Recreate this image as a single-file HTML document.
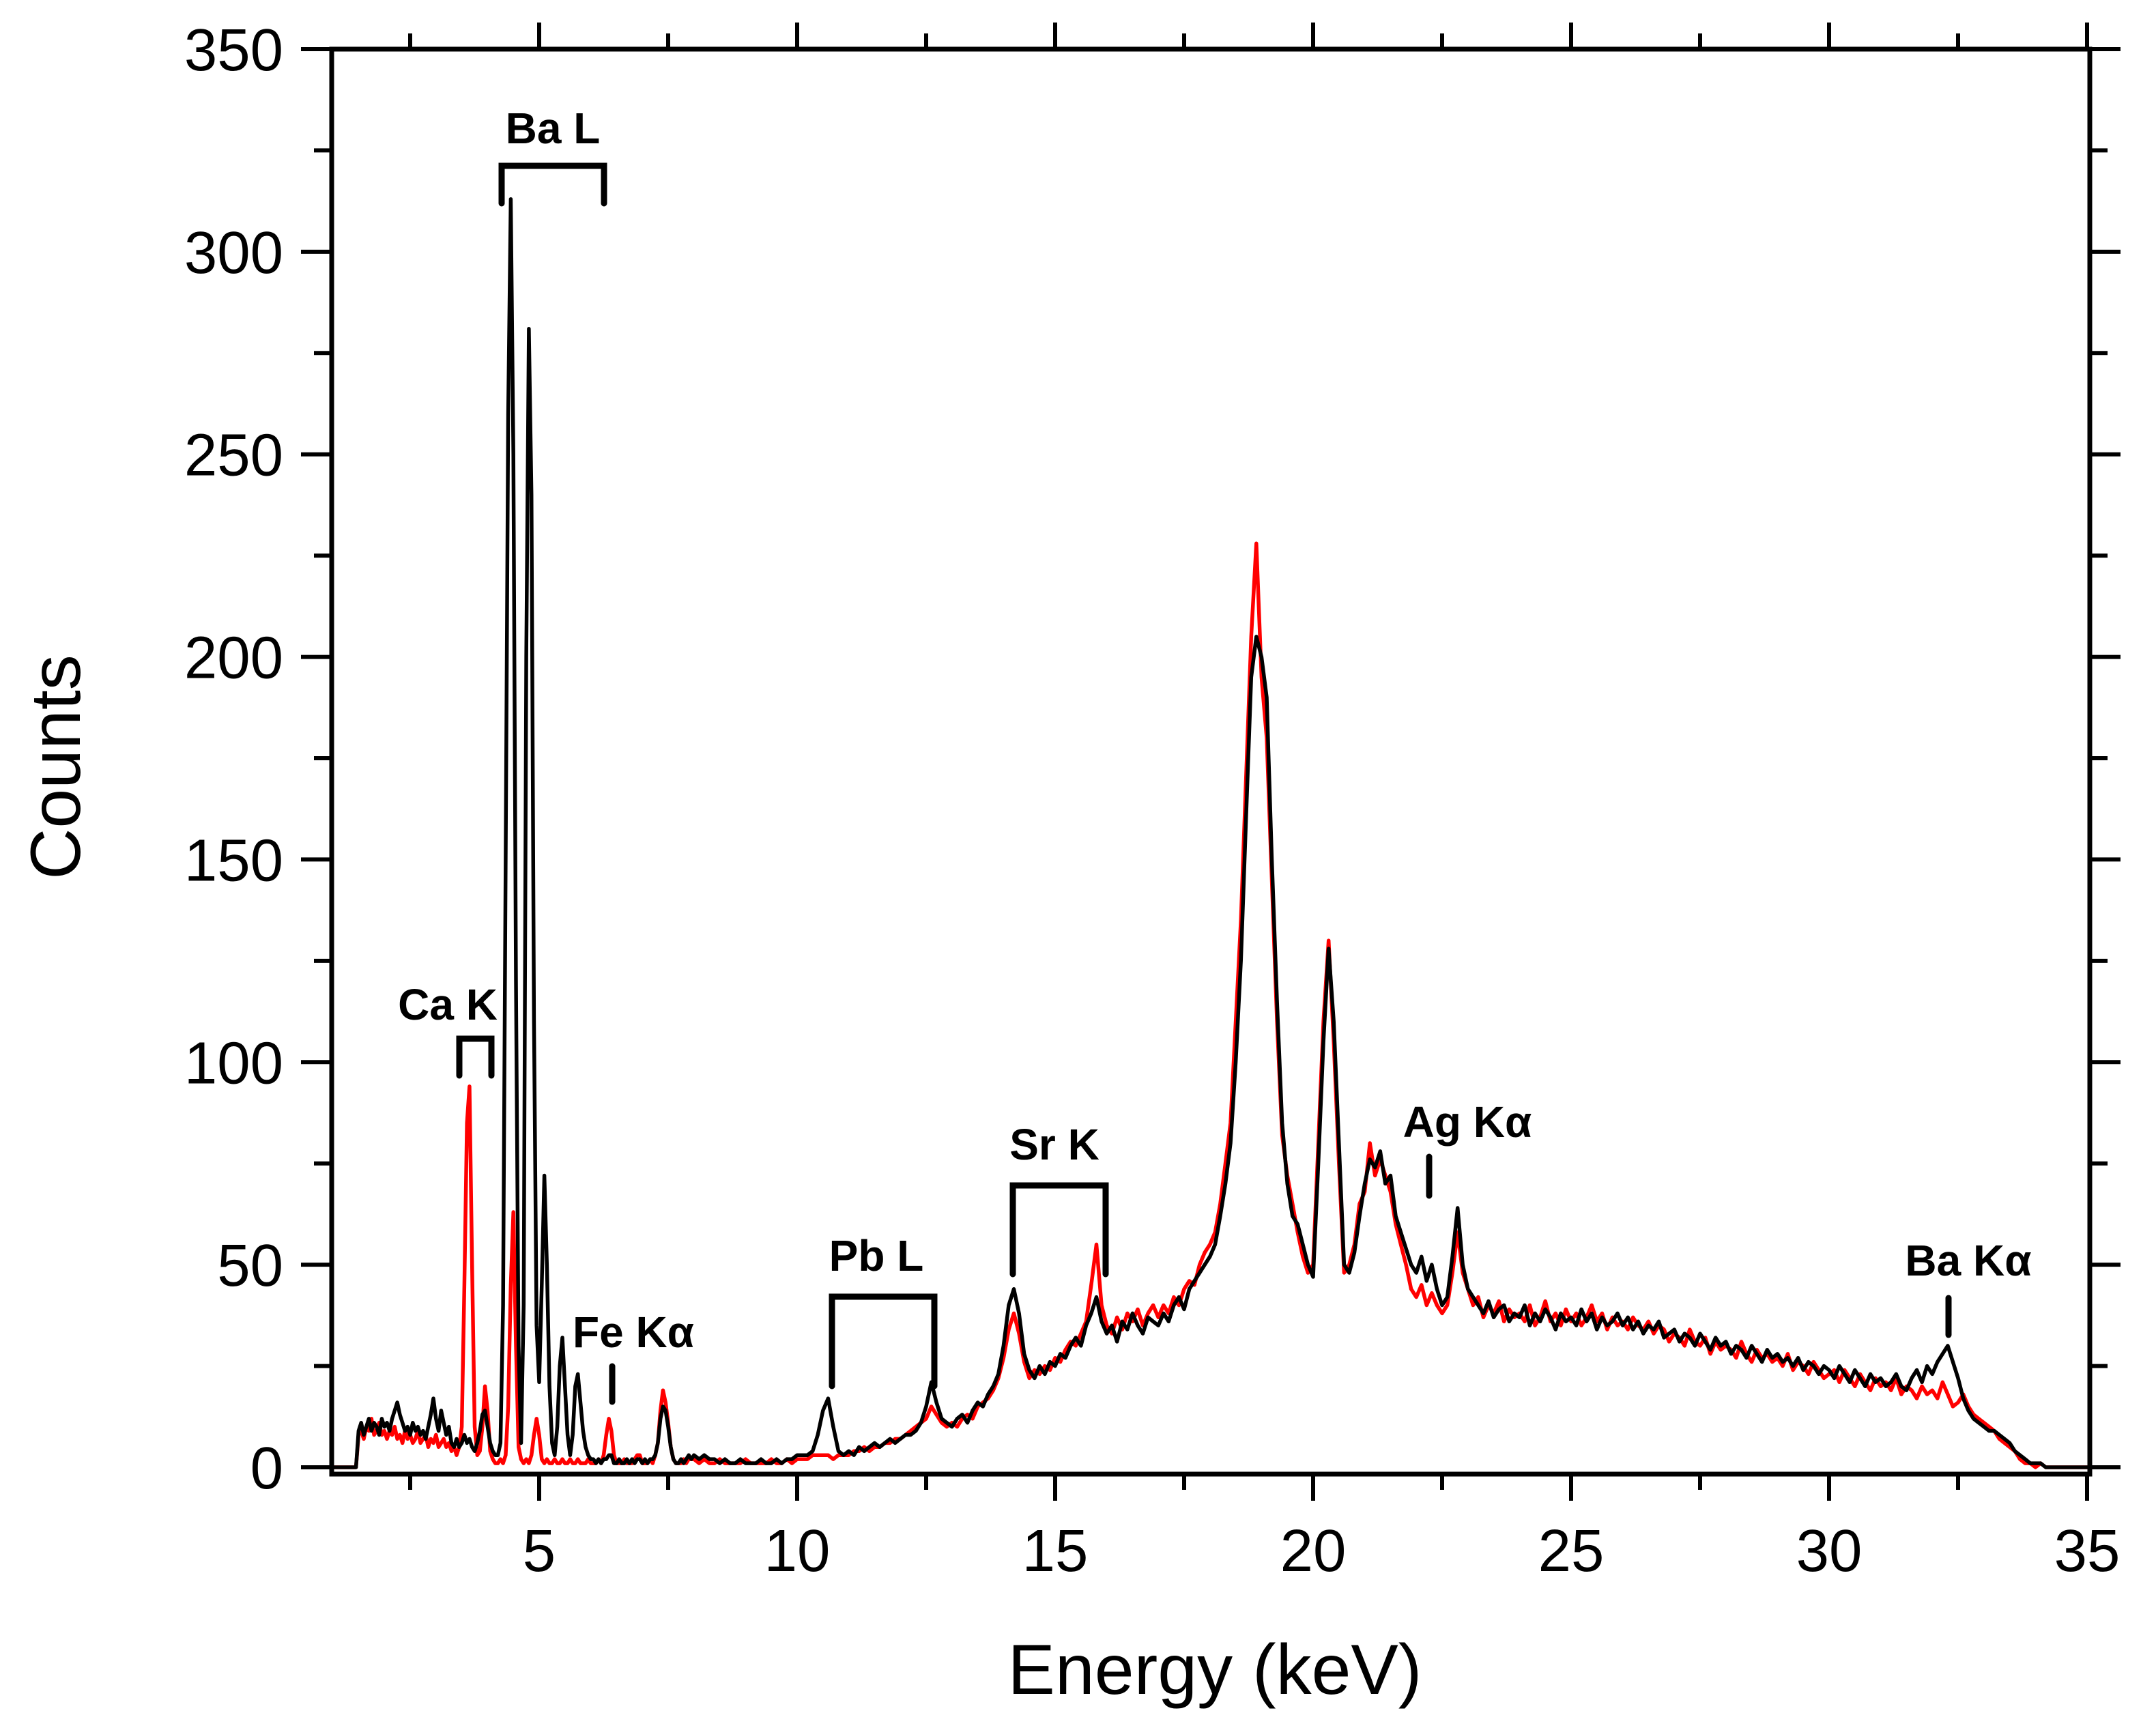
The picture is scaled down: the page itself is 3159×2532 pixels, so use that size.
<!DOCTYPE html>
<html><head><meta charset="utf-8">
<style>
html,body{margin:0;padding:0;background:#fff;}
svg{display:block;}
text{font-family:"Liberation Sans",Arial,sans-serif;}
</style></head>
<body>
<svg id="chart" width="3159" height="2532" viewBox="0 0 3159 2532" xmlns="http://www.w3.org/2000/svg">
<rect x="0" y="0" width="3159" height="2532" fill="#fff"/>
<g id="series"></g>
<g id="axes"></g>
<g id="annot" font-weight="bold" font-size="64" fill="#000">
  <text x="810" y="210" text-anchor="middle">Ba L</text>
  <path d="M735 298 V243 H885 V298" fill="none" stroke="#000" stroke-width="9" stroke-linecap="round"/>
  <text x="656" y="1494" text-anchor="middle">Ca K</text>
  <path d="M673 1576 V1522 H720 V1576" fill="none" stroke="#000" stroke-width="9" stroke-linecap="round"/>
  <text x="928" y="1974" text-anchor="middle">Fe Kα</text>
  <line x1="897" y1="2002" x2="897" y2="2054" stroke="#000" stroke-width="9" stroke-linecap="round"/>
  <text x="1284" y="1862" text-anchor="middle">Pb L</text>
  <path d="M1219 2031 V1900 H1369 V2031" fill="none" stroke="#000" stroke-width="9" stroke-linecap="round"/>
  <text x="1545" y="1699" text-anchor="middle">Sr K</text>
  <path d="M1484 1867 V1737 H1620 V1867" fill="none" stroke="#000" stroke-width="9" stroke-linecap="round"/>
  <text x="2150" y="1666" text-anchor="middle">Ag Kα</text>
  <line x1="2094" y1="1695" x2="2094" y2="1752" stroke="#000" stroke-width="9" stroke-linecap="round"/>
  <text x="2884" y="1869" text-anchor="middle">Ba Kα</text>
  <line x1="2855" y1="1902" x2="2855" y2="1956" stroke="#000" stroke-width="9" stroke-linecap="round"/>
</g>
<text x="1780" y="2482" text-anchor="middle" font-size="104">Energy (keV)</text>
<text transform="translate(117,1124) rotate(-90)" text-anchor="middle" font-size="104">Counts</text>
</svg>
<script>
// ---- data ----
const seg1Start = 1.45, seg1Step = 0.05;
const seg2Start = 8.1, seg2Step = 0.1;
const blackSeg1 = [0,9,11,8,10,12,9,11,10,8,12,10,11,9,12,14,16,13,11,9,10,8,11,9,10,8,9,7,10,13,17,12,9,14,11,8,10,6,5,7,5,6,8,6,7,5,4,6,9,13,14,10,6,4,3,3,6,40,150,260,313,250,120,30,6,40,200,281,240,110,35,21,45,72,50,20,6,3,10,25,32,20,8,3,8,20,23,16,9,5,3,2,2,1,2,1,2,2,3,3,1,1,2,1,1,2,1,2,1,2,2,1,2,1,2,2,3,6,12,15,14,10,5,2,1,1,2,1,2,3,2,3];
const redSeg1 = [0,8,9,7,10,9,12,8,9,11,8,9,7,9,8,10,7,8,6,9,7,8,6,7,9,6,7,8,5,7,6,8,5,6,7,5,6,4,5,3,5,10,45,85,94,50,10,3,4,10,20,14,4,2,1,1,2,1,3,15,45,63,30,5,2,1,2,1,3,8,12,8,2,1,2,1,1,2,1,1,2,1,1,2,1,1,2,1,1,1,2,1,1,1,2,1,3,8,12,9,3,1,1,1,2,1,1,1,2,3,3,1,1,1,2,1,3,6,14,19,16,11,5,2,1,1,1,2,1,2,2,2];
const blackSeg2 = [2,3,2,2,1,2,1,1,2,1,1,1,2,1,1,2,1,2,2,3,
3,3,4,8,14,17,10,4,3,
4,3,5,4,5,6,5,6,7,6,
7,8,8,9,11,15,21,16,12,11,
10,12,13,11,14,16,15,18,20,23,
30,40,44,38,28,24,22,25,23,26,
25,28,27,30,32,30,35,38,42,36,
33,35,31,36,34,38,35,33,37,36,
35,38,36,40,42,39,44,46,48,50,
52,55,62,70,80,100,125,160,195,205,
200,190,150,115,85,70,62,60,55,50,
47,75,105,128,110,80,50,48,53,62,
70,76,74,78,70,72,62,58,54,50,
48,52,46,50,44,40,42,52,64,50,
44,42,40,38,41,37,39,40,36,38,
37,40,35,38,36,39,37,34,38,36,
37,35,39,36,38,34,37,35,36,38,
35,37,34,36,33,35,34,36,32,33,
34,31,33,32,30,33,31,29,32,30,
31,28,30,29,27,30,28,26,29,27,
28,26,27,25,27,24,26,25,23,25,
24,22,25,23,21,24,22,20,23,21,
22,20,21,23,20,19,22,24,21,25,
23,26,28,30,26,22,17,14,12,11,
10,9,9,8,7,6,4,3,2,1,
1,1,0,0,0,0,0];
const redSeg2 = [1,2,1,1,2,1,1,1,1,2,1,1,1,1,2,1,1,2,1,2,
2,2,3,3,3,3,2,3,3,
3,4,4,5,4,5,5,6,6,7,
7,8,9,10,11,12,15,13,11,10,
11,10,12,13,12,15,16,17,19,22,
27,34,38,33,26,22,24,23,25,24,
27,26,29,31,30,33,36,45,55,40,
35,33,37,34,38,36,39,35,38,40,
37,40,38,42,40,44,46,45,50,53,
55,58,65,75,85,110,135,170,205,228,
195,180,145,110,82,72,65,58,52,48,
50,80,110,130,105,75,48,50,55,65,
68,80,72,76,72,68,60,55,50,44,
42,45,40,43,40,38,40,48,58,48,
44,40,42,37,40,38,41,36,39,37,
38,36,40,35,37,41,36,38,35,39,
36,38,35,37,40,36,38,34,37,35,
36,34,37,35,34,36,33,35,34,31,
33,32,30,34,31,30,32,28,31,29,
30,29,27,31,28,26,29,27,28,26,
27,25,28,24,26,25,23,26,24,22,
23,24,21,24,22,20,23,21,19,22,
20,21,19,22,18,20,19,17,20,18,
19,17,21,18,15,16,18,15,13,12,
11,10,9,7,6,5,4,2,1,1,
0,1,0,0,0,0,0];
const xTickLabels = ["5","10","15","20","25","30","35"];
const yTickLabels = ["0","50","100","150","200","250","300","350"];

// ---- scales ----
const X0 = 486, X1 = 3062, Y0 = 2160, Y1 = 72;
const xMin = 0.98, xMax = 35.05;
const yZeroPx = 2150, yTopPx = 72, yMax = 350;
function xs(e){ return 790 + (e - 5) * 75.6; }
function ys(v){ return yZeroPx - v * (yZeroPx - yTopPx) / yMax; }
const NS = "http://www.w3.org/2000/svg";
function mk(tag, parent){ const el = document.createElementNS(NS, tag); parent.appendChild(el); return el; }

// ---- series ----
const sg = document.getElementById('series');
function buildPoints(seg1, seg2){
  const pts = [[xs(xMin), ys(0)]];
  seg1.forEach((v,i)=>pts.push([xs(seg1Start + i*seg1Step), ys(v)]));
  seg2.forEach((v,i)=>pts.push([xs(seg2Start + i*seg2Step), ys(v)]));
  pts.push([xs(xMax), ys(0)]);
  return pts.map(p=>p[0].toFixed(1)+','+p[1].toFixed(1)).join(' ');
}
const red = mk('polyline', sg);


red.setAttribute('points', buildPoints(redSeg1, redSeg2));
red.setAttribute('fill', 'none'); red.setAttribute('stroke', '#ff0000'); red.setAttribute('stroke-width', '5.5'); red.setAttribute('stroke-linejoin', 'round');
const blk = mk('polyline', sg);


blk.setAttribute('points', buildPoints(blackSeg1, blackSeg2));
blk.setAttribute('fill', 'none'); blk.setAttribute('stroke', '#000'); blk.setAttribute('stroke-width', '5.5'); blk.setAttribute('stroke-linejoin', 'round');

// ---- axes ----
const ag = document.getElementById('axes');
function line(x1,y1,x2,y2,w,name){
  const l = mk('line', ag);
  l.setAttribute('x1',x1); l.setAttribute('y1',y1); l.setAttribute('x2',x2); l.setAttribute('y2',y2);
  l.setAttribute('stroke','#000'); l.setAttribute('stroke-width',w); l.setAttribute('stroke-linecap','square');
  
  
  return l;
}
line(X0,Y1,X0,Y0,7,'y-axis-left');
line(X1,Y1,X1,Y0,7,'y-axis-right');
line(X0,Y0,X1,Y0,7,'x-axis-bottom');
line(X0,Y1,X1,Y1,7,'x-axis-top');
// x ticks
for (let k=1;k<=14;k++){
  const e = k*2.5, major = (k%2===0), len = major?36:20, x = xs(e);
  line(x,Y0,x,Y0+len,6,'x-tick-bottom');
  line(x,Y1,x,Y1-len,6,'x-tick-top');
}
xTickLabels.forEach(s=>{
  const t = mk('text', ag);
  
  
  t.setAttribute('x', xs(parseFloat(s))); t.setAttribute('y', 2302);
  t.setAttribute('text-anchor','middle'); t.setAttribute('font-size','87');
  t.textContent = s;
});
// y ticks
for (let k=0;k<=14;k++){
  const v = k*25, major = (k%2===0), len = major?42:23, y = ys(v);
  line(X0-len,y,X0,y,6,'y-tick-left');
  line(X1,y,X1+len,y,6,'y-tick-right');
}
yTickLabels.forEach(s=>{
  const t = mk('text', ag);
  
  
  t.setAttribute('x', 415); t.setAttribute('y', ys(parseFloat(s)) + 31);
  t.setAttribute('text-anchor','end'); t.setAttribute('font-size','87');
  t.textContent = s;
});
</script>
</body></html>
